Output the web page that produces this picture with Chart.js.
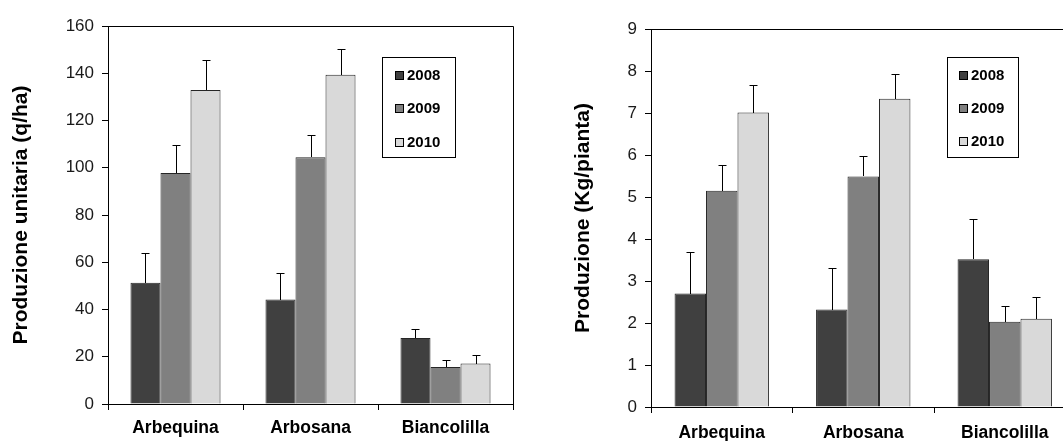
<!DOCTYPE html>
<html>
<head>
<meta charset="utf-8">
<script src="https://cdn.jsdelivr.net/npm/chart.js@4.4.1/dist/chart.umd.min.js"></script>
<style>
  html, body { margin: 0; padding: 0; background: #fff; overflow: hidden; width: 1063px; height: 441px; }
  #c1 { position: absolute; left: 0; top: 0; }
  #c2 { position: absolute; left: 540px; top: 0; }
</style>
</head>
<body>
<canvas id="c1" width="540" height="441"></canvas>
<canvas id="c2" width="580" height="441"></canvas>
<script>
const categorie = ["Arbequina", "Arbosana", "Biancolilla"];
const anni = ["2008", "2009", "2010"];
const colori = ["#404040", "#808080", "#d9d9d9"];

// Produzione unitaria (q/ha) - media e errore
const unitaria2008 = [51.3, 44.2, 27.9];
const unitaria2009 = [97.8, 104.4, 15.7];
const unitaria2010 = [132.9, 139.4, 17.1];
const erroreUnitaria2008 = [12.7, 11.4, 3.8];
const erroreUnitaria2009 = [11.8, 9.5, 2.8];
const erroreUnitaria2010 = [12.8, 11.0, 3.8];

// Produzione (Kg/pianta) - media e errore
const pianta2008 = [2.70, 2.32, 3.52];
const pianta2009 = [5.15, 5.49, 2.03];
const pianta2010 = [7.01, 7.34, 2.10];
const errorePianta2008 = [0.98, 0.99, 0.96];
const errorePianta2009 = [0.62, 0.49, 0.37];
const errorePianta2010 = [0.65, 0.59, 0.51];

const font = "'Liberation Sans', Arial, sans-serif";

// barre di errore (solo verso l'alto)
const erroriPlugin = {
  id: "errori",
  afterDatasetsDraw(chart) {
    const ctx = chart.ctx;
    const scalaY = chart.scales.y;
    ctx.save();
    ctx.strokeStyle = "#000";
    ctx.lineWidth = 1;
    chart.data.datasets.forEach((ds, i) => {
      chart.getDatasetMeta(i).data.forEach((barra, j) => {
        const x = Math.round(barra.x) + 0.5;
        const cima = Math.round(scalaY.getPixelForValue(ds.data[j] + ds.errori[j])) + 0.5;
        ctx.beginPath();
        ctx.moveTo(x, Math.round(barra.y));
        ctx.lineTo(x, cima);
        ctx.moveTo(x - 4, cima);
        ctx.lineTo(x + 4, cima);
        ctx.stroke();
      });
    });
    ctx.restore();
  },
};

// cornice superiore e destra dell'area del grafico
const cornicePlugin = {
  id: "cornice",
  afterDraw(chart) {
    const { ctx, chartArea } = chart;
    const t = Math.round(chartArea.top) + 0.5;
    const r = Math.round(chartArea.right) + 0.5;
    ctx.save();
    ctx.strokeStyle = "#000";
    ctx.lineWidth = 1;
    ctx.beginPath();
    ctx.moveTo(Math.round(chartArea.left), t);
    ctx.lineTo(r, t);
    ctx.lineTo(r, Math.round(chartArea.bottom));
    ctx.stroke();
    ctx.restore();
  },
};

// legenda dentro il grafico, con cornice
const legendaPlugin = {
  id: "legenda",
  afterDraw(chart, args, opt) {
    const ctx = chart.ctx;
    ctx.save();
    ctx.fillStyle = "#fff";
    ctx.fillRect(opt.x, opt.y, opt.w, opt.h);
    ctx.strokeStyle = "#000";
    ctx.lineWidth = 1;
    ctx.strokeRect(opt.x + 0.5, opt.y + 0.5, opt.w, opt.h);
    ctx.font = "bold 15px " + font;
    ctx.textBaseline = "middle";
    chart.data.datasets.forEach((ds, i) => {
      const yc = opt.y0 + i * opt.passo;
      ctx.fillStyle = ds.backgroundColor;
      ctx.fillRect(opt.quadX, Math.round(yc - 4), 8, 8);
      ctx.strokeStyle = "#000";
      ctx.strokeRect(opt.quadX + 0.5, Math.round(yc - 4) + 0.5, 8, 8);
      ctx.fillStyle = "#000";
      ctx.fillText(ds.label, opt.testoX, yc + 1);
    });
    ctx.restore();
  },
};

function creaGrafico(id, serie, errori, cfg) {
  const ctx = document.getElementById(id).getContext("2d");
  return new Chart(ctx, {
    type: "bar",
    data: {
      labels: categorie,
      datasets: anni.map((anno, i) => ({
        label: anno,
        data: serie[i],
        errori: errori[i],
        backgroundColor: colori[i],
        borderColor: "#262626",
        borderWidth: 1,
        categoryPercentage: 0.667,
        barPercentage: 1,
      })),
    },
    options: {
      responsive: false,
      animation: false,
      layout: {
        padding: { top: cfg.alto, right: cfg.destra, left: 0, bottom: 0 },
      },
      scales: {
        x: {
          ticks: {
            color: "#000",
            font: { family: font, size: 17.5, weight: "bold" },
            padding: cfg.padX,
            maxRotation: 0,
          },
          grid: { drawOnChartArea: false, color: "#000", tickLength: 6, offset: true },
          border: { color: "#000" },
          afterFit(scala) {
            scala.height = cfg.basso;
          },
        },
        y: {
          min: 0,
          max: cfg.max,
          ticks: {
            stepSize: cfg.passo,
            color: "#1a1a1a",
            font: { family: font, size: 17 },
            padding: 8,
          },
          grid: { drawOnChartArea: false, color: "#000", tickLength: 6 },
          border: { color: "#000" },
          title: {
            display: true,
            text: cfg.titolo,
            color: "#000",
            font: { family: font, size: 21, weight: "bold" },
            padding: { top: cfg.padTitolo, bottom: 0 },
          },
          afterFit(scala) {
            scala.width = cfg.sinistra;
          },
        },
      },
      plugins: {
        legend: { display: false },
        tooltip: { enabled: false },
        legenda: cfg.legenda,
      },
    },
    plugins: [erroriPlugin, cornicePlugin, legendaPlugin],
  });
}

creaGrafico(
  "c1",
  [unitaria2008, unitaria2009, unitaria2010],
  [erroreUnitaria2008, erroreUnitaria2009, erroreUnitaria2010],
  {
    titolo: "Produzione unitaria (q/ha)",
    max: 160,
    passo: 20,
    alto: 26,
    destra: 27,
    sinistra: 108,
    basso: 37,
    padX: 8,
    padTitolo: 8.4,
    legenda: { x: 382, y: 57, w: 73, h: 100, quadX: 395, testoX: 407, y0: 74.5, passo: 33.5 },
  }
);

creaGrafico(
  "c2",
  [pianta2008, pianta2009, pianta2010],
  [errorePianta2008, errorePianta2009, errorePianta2010],
  {
    titolo: "Produzione (Kg/pianta)",
    max: 9,
    passo: 1,
    alto: 29,
    destra: 44.5,
    sinistra: 111,
    basso: 34,
    padX: 10,
    padTitolo: 31,
    legenda: { x: 407, y: 57, w: 71, h: 100, quadX: 419, testoX: 431, y0: 75, passo: 33 },
  }
);
</script>
</body>
</html>
